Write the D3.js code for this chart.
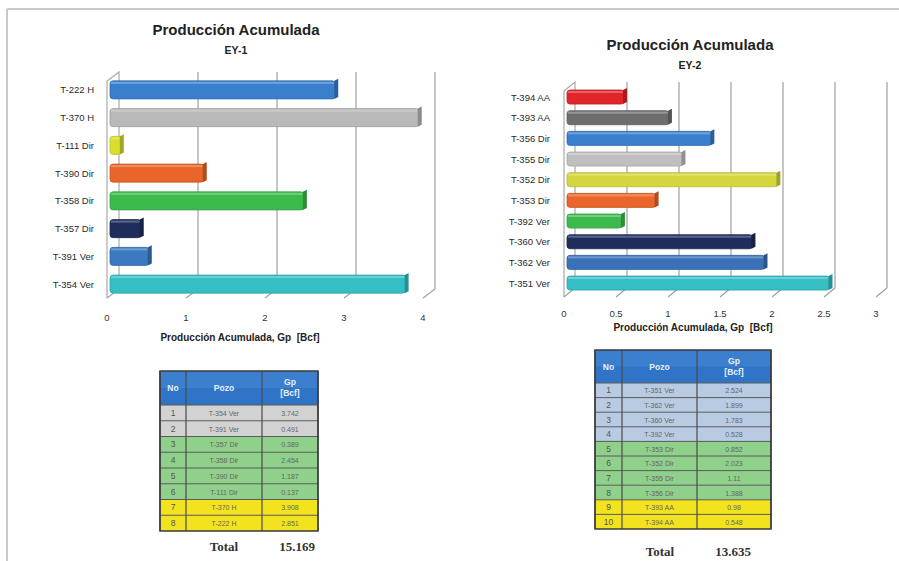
<!DOCTYPE html>
<html>
<head>
<meta charset="utf-8">
<script src="https://cdn.jsdelivr.net/npm/d3@7"></script>
<style>
  html, body { margin: 0; padding: 0; background: #fff; }
  svg { display: block; font-family: "Liberation Sans", Arial, sans-serif; }
</style>
</head>
<body>
<svg id="chart" width="899" height="561"></svg>
<script>
// ---- EY-1 wells (table order; the chart lists them bottom-up) ----
const ey1Wells = ["T-354 Ver", "T-391 Ver", "T-357 Dir", "T-358 Dir", "T-390 Dir", "T-111 Dir", "T-370 H", "T-222 H"];
const ey1Gp    = [3.742, 0.491, 0.389, 2.454, 1.187, 0.137, 3.908, 2.851];
const ey1Colors = ["#35bec4", "#3b79c1", "#1f2d5c", "#3dba4c", "#e9652a", "#d9dd2f", "#b9b9b9", "#3a7fcb"];
const ey1Ticks = [0, 1, 2, 3, 4];
const ey1Total = "15.169";

// ---- EY-2 wells ----
const ey2Wells = ["T-351 Ver", "T-362 Ver", "T-360 Ver", "T-392 Ver", "T-353 Dir", "T-352 Dir", "T-355 Dir", "T-356 Dir", "T-393 AA", "T-394 AA"];
const ey2Gp    = [2.524, 1.899, 1.783, 0.528, 0.852, 2.023, 1.11, 1.388, 0.98, 0.548];
const ey2Colors = ["#35bec4", "#3a72b9", "#1f2d5c", "#3dba4c", "#e9652a", "#d4d73b", "#bfbfbf", "#3a7fcb", "#6e6e6e", "#e1262b"];
const ey2Ticks = [0, 0.5, 1, 1.5, 2, 2.5, 3];
const ey2Total = "13.635";

const titleText = "Producción Acumulada";
const axisTitle = "Producción Acumulada, Gp  [Bcf]";
const tableHeader = ["No", "Pozo", "Gp", "[Bcf]"];

const narrow = "'Liberation Sans Narrow', 'Liberation Sans', sans-serif";
const serif = "'Liberation Serif', 'DejaVu Serif', serif";

const svg = d3.select("#chart");

// frame lines of the sheet
svg.append("line").attr("x1", 7).attr("y1", 9).attr("x2", 899).attr("y2", 9)
  .attr("stroke", "#c9c9c9").attr("stroke-width", 2);
svg.append("line").attr("x1", 7).attr("y1", 9).attr("x2", 7).attr("y2", 561)
  .attr("stroke", "#c9c9c9").attr("stroke-width", 2);

function drawChart(cfg) {
  const g = svg.append("g");
  const { x, dx, dy, yTop, yFront } = cfg;
  const yBack = yFront + dy;
  const xb = v => x(v) + dx;

  const y = d3.scaleBand().domain(cfg.wells.slice().reverse())
    .range(cfg.bandRange).paddingInner(cfg.pad).paddingOuter(cfg.pad / 2);

  // titles
  g.append("text").attr("x", cfg.cx).attr("y", cfg.titleY).attr("text-anchor", "middle")
    .attr("font-size", 15).attr("font-weight", "bold").attr("fill", "#222").text(titleText);
  g.append("text").attr("x", cfg.cx).attr("y", cfg.titleY + 19).attr("text-anchor", "middle")
    .attr("font-size", 10.5).attr("font-weight", "bold").attr("fill", "#222").text(cfg.sub);

  // left wall
  const x0 = x(0);
  g.append("path")
    .attr("d", `M${x0},${yFront} L${x0},${yTop - dy} L${xb(0)},${yTop} L${xb(0)},${yBack}`)
    .attr("fill", "none").attr("stroke", "#a9a9a9").attr("stroke-width", 1.2);

  // back wall gridlines and floor ticks
  cfg.ticks.forEach(t => {
    if (t > 0) {
      g.append("line").attr("x1", xb(t)).attr("x2", xb(t)).attr("y1", yTop).attr("y2", yBack)
        .attr("stroke", "#8c8c8c").attr("stroke-width", 1);
    }
    g.append("line").attr("x1", x(t)).attr("y1", yFront).attr("x2", xb(t)).attr("y2", yBack)
      .attr("stroke", "#a0a0a0").attr("stroke-width", 1.2);
  });

  // bars with a shaded end face
  const bars = g.selectAll("g.bar").data(cfg.wells.map((w, i) => ({ w, v: cfg.gp[i], c: cfg.colors[i] })))
    .join("g").attr("class", "bar");
  const off = 3;
  bars.append("rect")
    .attr("x", x0 + off).attr("y", d => y(d.w))
    .attr("width", d => Math.max(2, x(d.v) - x0))
    .attr("height", y.bandwidth()).attr("rx", 3)
    .attr("fill", d => d.c)
    .attr("stroke", d => d3.color(d.c).darker(0.4)).attr("stroke-width", 0.8);
  bars.append("rect")
    .attr("x", x0 + off + 1).attr("y", d => y(d.w) + 1)
    .attr("width", d => Math.max(1, x(d.v) - x0 - 2))
    .attr("height", 2).attr("fill", "#ffffff").attr("opacity", 0.28);
  bars.append("path")
    .attr("d", d => {
      const xe = x(d.v) + off, yt = y(d.w), h = y.bandwidth();
      return `M${xe - 1},${yt} L${xe + 3},${yt - 2} L${xe + 3},${yt + h - 2} L${xe - 1},${yt + h} Z`;
    })
    .attr("fill", d => d3.color(d.c).darker(0.8));

  // category labels
  g.selectAll("text.cat").data(cfg.wells).join("text").attr("class", "cat")
    .attr("x", cfg.labelX).attr("y", d => y(d) + y.bandwidth() / 2 + 3.5)
    .attr("text-anchor", "end").attr("font-size", 9.5).attr("fill", "#2a2a2a")
    .style("font-family", narrow)
    .text(d => d);

  // tick labels
  g.selectAll("text.tick").data(cfg.ticks).join("text").attr("class", "tick")
    .attr("x", d => x(d)).attr("y", cfg.tickY).attr("text-anchor", "middle")
    .attr("font-size", 9.5).attr("fill", "#333").text(d => d3.format("~g")(d));

  g.append("text").attr("x", cfg.axisCx).attr("y", cfg.axisY).attr("text-anchor", "middle")
    .attr("font-size", 10).attr("font-weight", "bold").attr("fill", "#222")
    .attr("xml:space", "preserve").text(axisTitle);
}

function drawTable(cfg) {
  const g = svg.append("g");
  const [c0, c1, c2, c3] = cfg.cols;
  const rowH = (cfg.bottom - cfg.headBottom) / cfg.wells.length;
  const headFill = "#2f74c6";

  g.append("rect").attr("x", c0).attr("y", cfg.top).attr("width", c3 - c0)
    .attr("height", cfg.headBottom - cfg.top).attr("fill", headFill);
  g.append("rect").attr("x", c0).attr("y", cfg.top).attr("width", c3 - c0)
    .attr("height", (cfg.headBottom - cfg.top) / 2).attr("fill", "#4a8ad6").attr("opacity", 0.5);

  const hy = (cfg.top + cfg.headBottom) / 2;
  const head = (tx, ty, s) => g.append("text").attr("x", tx).attr("y", ty).attr("text-anchor", "middle")
    .attr("font-size", 8.5).attr("font-weight", "bold").attr("fill", "#e8f0ff").text(s);
  head((c0 + c1) / 2, hy + 3, tableHeader[0]);
  head((c1 + c2) / 2, hy + 3, tableHeader[1]);
  head((c2 + c3) / 2, hy - 3, tableHeader[2]);
  head((c2 + c3) / 2, hy + 8, tableHeader[3]);

  cfg.wells.forEach((w, i) => {
    const ry = cfg.headBottom + i * rowH;
    const kind = w.split(" ")[1];
    g.append("rect").attr("x", c0).attr("y", ry).attr("width", c3 - c0).attr("height", rowH)
      .attr("fill", cfg.fills[kind]);
    const ty = ry + rowH / 2 + 3;
    g.append("text").attr("x", (c0 + c1) / 2).attr("y", ty).attr("text-anchor", "middle")
      .attr("font-size", 8.5).attr("fill", "#555").text(i + 1);
    g.append("text").attr("x", (c1 + c2) / 2).attr("y", ty).attr("text-anchor", "middle")
      .attr("font-size", 7).attr("fill", "#666").text(w);
    g.append("text").attr("x", (c2 + c3) / 2).attr("y", ty).attr("text-anchor", "middle")
      .attr("font-size", 7).attr("fill", "#666").text(String(cfg.gp[i]));
    g.append("line").attr("x1", c0).attr("x2", c3).attr("y1", ry).attr("y2", ry)
      .attr("stroke", "#5a5a5a").attr("stroke-width", 1);
  });
  [c0, c1, c2, c3].forEach(cx => {
    g.append("line").attr("x1", cx).attr("x2", cx).attr("y1", cfg.top).attr("y2", cfg.bottom)
      .attr("stroke", "#4a4a4a").attr("stroke-width", 1.2);
  });
  g.append("rect").attr("x", c0).attr("y", cfg.top).attr("width", c3 - c0)
    .attr("height", cfg.bottom - cfg.top).attr("fill", "none").attr("stroke", "#3a3a3a").attr("stroke-width", 1.5);

  g.append("text").attr("x", cfg.totalX[0]).attr("y", cfg.totalY).attr("text-anchor", "middle")
    .style("font-family", serif).attr("font-size", 13).attr("font-weight", "bold")
    .attr("fill", "#333").text("Total");
  g.append("text").attr("x", cfg.totalX[1]).attr("y", cfg.totalY).attr("text-anchor", "middle")
    .style("font-family", serif).attr("font-size", 13).attr("font-weight", "bold")
    .attr("fill", "#333").text(cfg.total);
}

drawChart({
  wells: ey1Wells, gp: ey1Gp, colors: ey1Colors, ticks: ey1Ticks, sub: "EY-1",
  x: d3.scaleLinear().domain([0, 4]).range([107, 423]),
  dx: 12, dy: -9, yTop: 72, yFront: 298,
  bandRange: [76, 298], pad: 0.35,
  cx: 236, titleY: 35, labelX: 94, tickY: 321, axisCx: 240, axisY: 341
});

drawChart({
  wells: ey2Wells, gp: ey2Gp, colors: ey2Colors, ticks: ey2Ticks, sub: "EY-2",
  x: d3.scaleLinear().domain([0, 3]).range([564, 876]),
  dx: 11, dy: -9, yTop: 82, yFront: 297,
  bandRange: [86.7, 293.4], pad: 0.32,
  cx: 690, titleY: 50, labelX: 550, tickY: 317, axisCx: 693, axisY: 331
});

drawTable({
  wells: ey1Wells, gp: ey1Gp, total: ey1Total,
  cols: [160, 186, 262, 318], top: 371, headBottom: 405, bottom: 531,
  fills: { Ver: "#d2d2d2", Dir: "#8fd08b", H: "#f2e31e" },
  totalX: [224, 297], totalY: 551
});

drawTable({
  wells: ey2Wells, gp: ey2Gp, total: ey2Total,
  cols: [595, 622, 697, 771], top: 350, headBottom: 383, bottom: 529,
  fills: { Ver: "#b9cbe3", Dir: "#8fd08b", AA: "#f2e31e" },
  totalX: [660, 733], totalY: 556
});
</script>
</body>
</html>
